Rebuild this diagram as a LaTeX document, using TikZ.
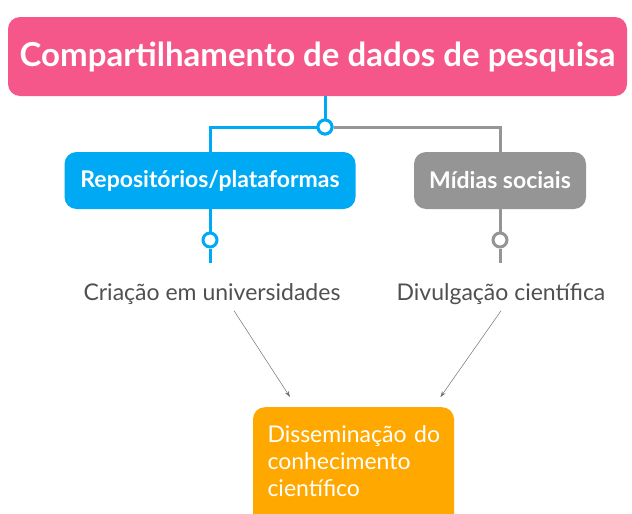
\documentclass[tikz,border=0pt]{standalone}
\usepackage{fontspec}
\setmainfont{Lato}
\usetikzlibrary{arrows.meta}
\definecolor{rosa}{HTML}{F5578A}
\definecolor{azul}{HTML}{00A9F4}
\definecolor{cinza}{HTML}{959595}
\definecolor{laranja}{HTML}{FFA800}
\definecolor{texto}{HTML}{505050}
\begin{document}
\begin{tikzpicture}[x=1pt,y=-1pt,
    topico/.style={rectangle,rounded corners=12pt,text=white,font=\bfseries,inner sep=0pt},
    junta/.style={circle,draw=#1,fill=white,line width=3pt,minimum size=14pt,inner sep=0pt},
    ramo/.style={draw=#1,line width=3pt},
    folha/.style={text=texto,font=\fontsize{23}{26}\selectfont,inner sep=0pt},
    seta/.style={draw=texto!80,line width=0.5pt,-{Stealth[length=6pt,width=4pt]},shorten >=12pt}]
  \useasboundingbox[fill=white] (0,0) rectangle (632,514);
  \node[topico,fill=rosa,minimum width=619pt,minimum height=79pt,font=\bfseries\fontsize{33}{38}\selectfont]
    (raiz) at (317.5,56.5) {Compartilhamento de dados de pesquisa};
  \node[topico,fill=azul,minimum width=291pt,minimum height=57pt,font=\bfseries\fontsize{23}{26}\selectfont]
    (repo) at (210,180.5) {Repositórios/plataformas};
  \node[topico,fill=cinza,minimum width=172pt,minimum height=57pt,font=\bfseries\fontsize{23}{26}\selectfont]
    (midia) at (500,180.5) {Mídias sociais};
  \node[topico,fill=laranja,anchor=north,
    font=\fontsize{23}{27}\selectfont\mdseries,text width=172pt,inner xsep=14.5pt,
    inner ysep=18pt,align=left]
    (dissem) at (353.5,407) {\mbox{Disseminação do}\\conhecimento\\científico\\[10pt]\mbox{}};

  \node[junta=azul] (j0) at (325,127) {};
  \node[junta=azul] (j1) at (210,240) {};
  \node[junta=cinza] (j2) at (500,240) {};
  \coordinate (f1) at (210,263);
  \coordinate (f2) at (500,263);

  \draw[ramo=azul] (raiz.south -| j0) -- (j0.north);
  \draw[ramo=azul] (j0.west) -| (repo.north);
  \draw[ramo=cinza] (j0.east) -| (midia.north);
  \draw[ramo=azul] (repo.south) -- (j1.north) (j1.south) -- (f1);
  \draw[ramo=cinza] (midia.south) -- (j2.north) (j2.south) -- (f2);
  \node[junta=azul] at (j0) {};

  \node[folha] (cria) at (212,294) {Criação em universidades};
  \node[folha] (divul) at (501,294) {Divulgação científica};

  \draw[seta] ([shift={(22,6)}]cria.south) -- ([xshift=-57pt]dissem.north);
  \draw[seta] ([shift={(0,6)}]divul.south) -- ([xshift=80pt]dissem.north);
\end{tikzpicture}
\end{document}
